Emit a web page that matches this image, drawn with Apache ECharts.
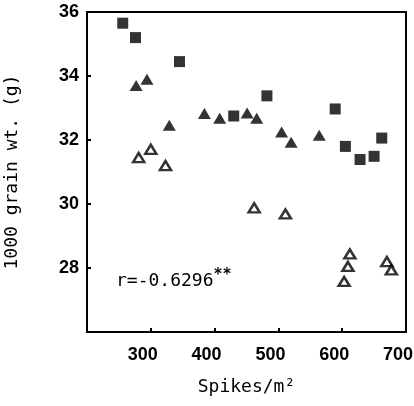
<!DOCTYPE html>
<html><head><meta charset="utf-8">
<script src="https://cdn.jsdelivr.net/npm/echarts@6/dist/echarts.min.js"></script>
<style>html,body{margin:0;padding:0;background:#fff}#c{width:414px;height:406px}</style>
</head><body><div id="c"></div>
<script>
const xTicks = [200, 300, 400, 500, 600, 700];
const yTicks = [26, 28, 30, 32, 34, 36];
const filledSquares = [
  [256, 35.65], [276, 35.2], [345, 34.45], [482, 33.38], [430, 32.75],
  [589, 32.97], [605, 31.8], [628, 31.39], [650, 31.49], [662, 32.06]
];
const filledTriangles = [
  [277, 33.7], [294, 33.9], [329, 32.46], [384, 32.83], [408, 32.68],
  [451, 32.84], [466, 32.68], [505, 32.25], [520, 31.93], [564, 32.15]
];
const openTriangles = [
  [281, 31.45], [300, 31.71], [323, 31.2], [462, 29.88], [511, 29.69],
  [612, 28.44], [609, 28.05], [603, 27.58], [670, 28.2], [677, 27.94]
];
const annotation = 'r=-0.6296';
const xTitle = 'Spikes/m²';
const yTitle = '1000 grain wt. (g)';

const chart = echarts.init(document.getElementById('c'));
const labelFont = {color: '#000', fontFamily: 'Liberation Sans', fontSize: 18, fontWeight: 'bold'};
chart.setOption({
  animation: false,
  grid: {left: 87, top: 12, right: 8, bottom: 74, show: true, borderColor: '#000', borderWidth: 2,
         containLabel: false, outerBoundsMode: 'none'},
  xAxis: {
    type: 'value', min: xTicks[0], max: xTicks[xTicks.length - 1], interval: 100,
    splitLine: {show: false},
    axisLine: {lineStyle: {color: '#000', width: 2}},
    axisTick: {inside: true, length: 4, lineStyle: {color: '#000', width: 2}},
    axisLabel: Object.assign({margin: 14, padding: [0, 16, 0, 0], formatter: v => v === xTicks[0] ? '' : String(v)}, labelFont),
    name: xTitle, nameLocation: 'middle', nameGap: 46,
    nameTextStyle: {color: '#000', fontFamily: 'DejaVu Sans Mono', fontSize: 18}
  },
  yAxis: {
    type: 'value', min: yTicks[0], max: yTicks[yTicks.length - 1], interval: 2,
    splitLine: {show: false},
    axisLine: {lineStyle: {color: '#000', width: 2}},
    axisTick: {inside: true, length: 4, lineStyle: {color: '#000', width: 2}},
    axisLabel: Object.assign({margin: 8, formatter: v => v === yTicks[0] ? '' : String(v)}, labelFont),
    name: yTitle, nameLocation: 'middle', nameGap: 66, nameRotate: 90,
    nameTextStyle: {color: '#000', fontFamily: 'DejaVu Sans Mono', fontSize: 18}
  },
  graphic: [{
    type: 'text', left: 116, top: 268,
    style: {
      text: '{a|' + annotation + '}{s|**}',
      rich: {
        a: {fontFamily: 'DejaVu Sans Mono', fontSize: 18, fill: '#000'},
        s: {fontFamily: 'DejaVu Sans Mono', fontSize: 15, fontWeight: 'bold', fill: '#000', verticalAlign: 'top', padding: [0, 0, 12, 0]}
      }
    }
  }],
  series: [
    {type: 'scatter', data: filledSquares, symbol: 'rect', symbolSize: 11,
     itemStyle: {color: '#000'}},
    {type: 'scatter', data: filledTriangles, symbol: 'triangle', symbolSize: [13, 11],
     itemStyle: {color: '#000'}},
    {type: 'scatter', data: openTriangles, symbol: 'triangle', symbolSize: [11, 9],
     itemStyle: {color: '#fff', borderColor: '#000', borderWidth: 2.5}}
  ]
});
</script></body></html>
